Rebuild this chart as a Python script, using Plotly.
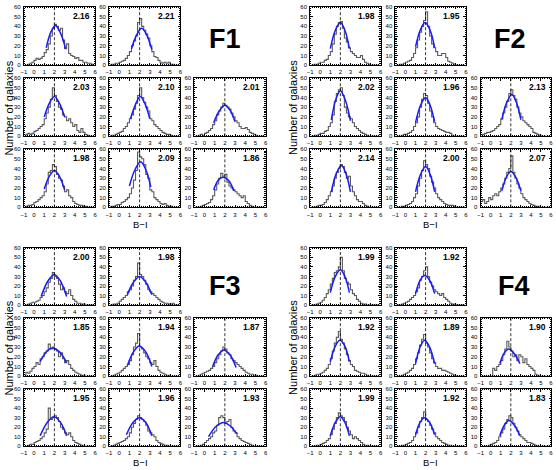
import numpy as np
import plotly.graph_objects as go

# --- data -----------------------------------------------------------------
# step histograms: counts in 0.2-wide B-I bins from -1.0 to 6.0 (35 bins)
bin_edges = np.round(np.arange(-1.0, 6.0001, 0.2), 2)
bin_centers = (bin_edges[:-1] + bin_edges[1:]) / 2

panel_names = ["F1", "F2", "F3", "F4"]

f1_labels = ["2.16", "2.21", "2.03", "2.10", "2.01", "1.98", "2.09", "1.86"]
f2_labels = ["1.98", "1.95", "2.02", "1.96", "2.13", "2.14", "2.00", "2.07"]
f3_labels = ["2.00", "1.98", "1.85", "1.94", "1.87", "1.95", "1.96", "1.93"]
f4_labels = ["1.99", "1.92", "1.92", "1.89", "1.90", "1.99", "1.92", "1.83"]

f1_counts = [
    [0,0,1,2,3,5,7,6,7,9,13,16,22,30,38,42,40,36,38,26,17,22,12,10,9,7,8,5,5,3,3,2,2,1,0],
    [0,1,1,2,2,3,4,5,7,10,14,20,25,30,44,48,40,36,32,28,20,14,9,8,5,3,2,3,2,3,1,1,0,0,0],
    [0,2,3,2,3,5,6,8,10,12,18,24,30,38,50,42,36,30,28,22,20,16,18,14,10,12,6,4,8,4,2,1,0,0,0],
    [0,1,1,2,3,4,5,8,10,14,18,22,28,34,42,50,40,35,30,26,18,16,12,10,8,6,4,3,2,2,1,0,0,0,0],
    [0,0,1,2,1,3,4,6,8,12,16,22,26,30,34,32,30,28,24,20,16,14,10,8,8,9,7,4,3,2,1,0,0,0,0],
    [0,1,2,2,3,5,6,8,10,12,16,24,36,38,44,42,34,30,28,22,16,18,12,10,6,4,3,2,2,1,1,0,0,0,0],
    [0,1,1,2,3,3,5,6,8,10,14,20,28,38,57,52,50,44,34,30,18,16,10,8,6,4,3,4,2,1,1,0,0,0,0],
    [0,0,0,1,2,3,4,5,8,12,18,24,30,35,32,34,26,22,20,18,16,14,12,10,12,6,4,2,1,0,0,0,0,0,0],
]
f2_counts = [
    [0,0,1,1,2,3,3,5,6,10,14,22,32,40,44,45,38,28,24,18,14,12,10,8,8,10,6,3,2,1,0,0,0,0,0],
    [0,0,1,1,2,3,4,5,8,12,18,26,34,40,46,55,40,30,22,18,14,10,10,12,12,8,4,3,2,1,0,0,0,0,0],
    [0,0,1,1,2,3,3,5,6,10,14,22,36,44,48,50,42,30,24,20,18,14,10,8,6,4,3,2,1,0,0,0,0,0,0],
    [0,0,0,1,2,2,3,4,6,10,14,20,30,38,44,42,34,26,20,14,10,8,7,6,5,4,4,3,1,0,0,0,0,0,0],
    [0,2,3,4,4,5,6,8,10,12,18,24,30,36,44,48,42,38,30,24,20,16,14,12,10,8,4,3,2,1,0,0,0,0,0],
    [0,0,0,1,2,2,3,5,8,12,16,22,30,36,40,44,42,36,30,32,22,16,12,8,6,6,4,2,1,0,0,0,0,0,0],
    [0,0,0,1,1,2,3,4,6,10,14,22,30,38,48,44,40,32,26,20,14,10,8,6,4,3,2,2,2,1,0,0,0,0,0],
    [6,8,4,6,10,8,12,14,12,16,20,24,30,36,40,53,36,30,24,20,14,10,8,6,4,3,2,1,1,0,0,0,0,0,0],
]
f3_counts = [
    [0,0,1,2,3,3,4,5,8,10,14,18,24,28,34,30,28,22,16,18,14,12,16,10,6,4,2,2,1,1,0,0,0,0,0],
    [0,0,1,1,2,4,6,8,10,14,16,20,26,30,44,32,30,26,22,16,14,12,10,8,6,4,3,2,2,1,1,2,0,0,0],
    [0,4,3,5,8,10,14,12,18,20,24,26,33,28,30,28,26,20,24,18,14,16,12,8,6,4,3,2,1,1,0,0,0,0,0],
    [0,0,1,2,3,4,6,8,10,12,16,22,30,34,44,30,28,24,20,18,14,12,16,10,6,4,3,2,1,1,0,0,0,0,0],
    [0,0,1,2,3,4,5,6,8,10,14,18,22,26,30,28,24,22,18,16,14,12,10,8,6,4,3,2,2,1,1,0,0,0,0],
    [0,0,1,2,2,4,5,6,8,10,14,18,40,28,30,32,30,26,20,18,14,12,14,10,6,4,3,2,1,0,0,0,0,0,0],
    [0,0,1,2,3,4,5,6,8,10,14,20,24,28,32,30,28,26,22,16,14,12,10,6,4,3,2,1,1,0,0,0,0,0,0],
    [0,0,0,1,2,4,6,8,10,14,16,22,30,32,30,24,26,28,20,16,14,10,8,6,5,4,3,2,1,0,0,0,0,0,0],
]
f4_counts = [
    [0,0,0,1,2,3,5,8,12,16,22,28,34,36,40,50,36,28,24,22,16,12,10,6,4,2,1,1,0,0,0,0,0,0,0],
    [0,0,0,1,2,3,4,6,8,10,14,18,26,30,36,40,30,24,20,16,14,12,10,12,8,6,4,2,1,1,0,0,0,0,0],
    [0,0,1,2,2,3,4,6,8,12,18,26,34,40,46,38,34,28,22,16,12,10,6,5,4,3,3,2,1,0,0,0,0,0,0],
    [0,0,0,1,2,3,4,6,8,12,18,24,32,38,43,34,30,24,18,14,10,8,8,6,6,5,4,3,2,1,0,0,0,0,0],
    [0,0,0,0,0,0,8,6,10,12,16,22,28,36,30,26,20,22,16,22,20,14,18,12,10,8,6,2,1,0,0,0,0,0,0],
    [0,0,0,1,1,2,3,4,6,8,12,18,24,30,35,32,30,26,20,16,12,8,10,8,6,4,2,1,1,0,0,0,0,0,0],
    [0,0,0,1,1,2,3,4,6,10,14,20,26,30,36,28,26,22,18,14,10,8,6,4,3,2,1,1,0,0,0,0,0,0,0],
    [0,0,0,0,1,2,3,4,6,10,14,18,24,28,32,30,24,20,16,12,10,8,6,4,4,3,2,1,0,0,0,0,0,0,0],
]

# gaussian fits (blue)
f1_fit_x = [[1.2,1.65,2.1,2.6,3.1],[1.2,1.7,2.2,2.7,3.2],[1.0,1.5,2.0,2.5,3.0],[1.1,1.6,2.05,2.5,3.0],
            [0.9,1.45,2.0,2.5,3.0],[1.0,1.5,2.0,2.5,3.0],[1.0,1.55,2.1,2.6,3.1],[0.9,1.35,1.8,2.35,2.9]]
f1_fit_y = [[18,34,41,33,17],[17,31,38,31,16],[20,34,41,34,20],[18,33,41,34,18],
            [14,26,32,27,15],[19,32,38,32,18],[22,39,47,39,21],[18,28,31,28,17]]
f2_fit_x = [[1.0,1.5,2.0,2.45,2.9],[1.0,1.5,1.95,2.45,2.9],[1.1,1.55,2.0,2.5,3.0],[1.0,1.5,2.0,2.45,2.9],
            [1.1,1.6,2.1,2.55,3.0],[1.1,1.6,2.1,2.55,3.0],[1.0,1.5,2.0,2.45,2.9],[1.1,1.55,2.0,2.5,3.0]]
f2_fit_y = [[17,36,44,36,17],[19,37,44,36,18],[17,38,47,37,16],[14,32,40,32,15],
            [17,35,43,35,17],[16,35,43,35,16],[16,34,42,34,16],[17,31,37,31,17]]
f3_fit_x = [[0.7,1.35,2.0,2.6,3.2],[0.8,1.4,2.0,2.6,3.2],[0.6,1.2,1.8,2.5,3.2],[0.8,1.4,1.95,2.6,3.2],
            [0.8,1.35,1.9,2.5,3.1],[0.6,1.3,1.95,2.6,3.2],[0.7,1.35,1.95,2.6,3.2],[0.4,1.15,1.9,2.55,3.2]]
f3_fit_y = [[9,25,32,25,9],[11,24,30,24,11],[15,25,29,25,14],[11,25,31,25,10],
            [10,22,27,22,9],[11,25,31,25,11],[12,25,30,25,11],[10,21,25,21,13]]
f4_fit_x = [[1.0,1.5,2.0,2.45,2.9],[1.0,1.45,1.9,2.4,2.9],[1.0,1.5,1.95,2.45,2.9],[1.0,1.45,1.9,2.4,2.9],
            [0.9,1.35,1.8,2.35,2.9],[1.0,1.5,2.0,2.45,2.9],[1.0,1.45,1.9,2.4,2.9],[0.9,1.35,1.8,2.35,2.9]]
f4_fit_y = [[13,30,37,30,13],[12,26,31,26,12],[15,31,37,31,15],[13,30,37,30,13],
            [13,24,28,23,13],[11,25,31,25,11],[12,25,30,25,12],[11,22,27,22,11]]

ref_line_x = 2.0
x_ticks = [-1, 0, 1, 2, 3, 4, 5, 6]
y_ticks = [0, 10, 20, 30, 40, 50, 60]

all_counts = [f1_counts, f2_counts, f3_counts, f4_counts]
all_labels = [f1_labels, f2_labels, f3_labels, f4_labels]
all_fit_x = [f1_fit_x, f2_fit_x, f3_fit_x, f4_fit_x]
all_fit_y = [f1_fit_y, f2_fit_y, f3_fit_y, f4_fit_y]

# --- layout in pixels ------------------------------------------------------
W, H = 556, 470
FONT = "Liberation Sans, Arial, sans-serif"

cols_left = [(21, 93), (107, 179), (193, 265)]
cols_right = [(310, 381), (396, 467), (482, 553)]
rows_top = [(4, 63), (76, 135), (148, 207)]
rows_bot = [(248, 306), (319, 378), (391, 449)]
panel_grid = [(cols_left, rows_top), (cols_right, rows_top),
              (cols_left, rows_bot), (cols_right, rows_bot)]
# slots of the 8 small plots inside a panel (row, col)
slots = [(0, 0), (0, 1), (1, 0), (1, 1), (1, 2), (2, 0), (2, 1), (2, 2)]

# where the panel-level texts go (pixels)
name_pos = [(224, 36), (512, 36), (224, 287), (516, 287)]
ylab_pos = [(6, 106), (292, 106), (6, 349), (292, 349)]
xlab_pos = [(139, 224), (431, 224), (139, 465), (431, 465)]


def dom_x(p):
    return [p[0] / W, p[1] / W]


def dom_y(p):
    return [1 - p[1] / H, 1 - p[0] / H]


fig = go.Figure()
layout = {}
shapes = []
annotations = []

k = 0
for p in range(4):
    cols, rows = panel_grid[p]
    for s, (r, c) in enumerate(slots):
        k += 1
        xa = "x" if k == 1 else f"x{k}"
        ya = "y" if k == 1 else f"y{k}"

        fig.add_trace(go.Scatter(
            x=bin_centers, y=all_counts[p][s], mode="lines",
            line=dict(color="#5a5a5a", width=1.1, shape="hvh"),
            xaxis=xa, yaxis=ya, showlegend=False, hoverinfo="skip"
        ))
        fig.add_trace(go.Scatter(
            x=all_fit_x[p][s], y=all_fit_y[p][s], mode="lines",
            line=dict(color="#1a1aff", width=1.5, shape="spline"),
            xaxis=xa, yaxis=ya, showlegend=False, hoverinfo="skip"
        ))

        common = dict(
            showline=True, linecolor="black", linewidth=1, mirror="allticks",
            ticks="inside", ticklen=2.5, tickcolor="black", tickwidth=0.8,
            showgrid=False, zeroline=False, fixedrange=True,
            tickfont=dict(size=6, family=FONT, color="black"),
        )
        layout[f"xaxis{k}"] = dict(
            domain=dom_x(cols[c]), anchor=ya, range=[-1, 6],
            tickvals=x_ticks, ticklabelstandoff=1,
            minor=dict(dtick=0.2, ticks="inside", ticklen=1.2, tickcolor="black"),
            **common
        )
        layout[f"yaxis{k}"] = dict(
            domain=dom_y(rows[r]), anchor=xa, range=[0, 60],
            tickvals=y_ticks, ticklabelstandoff=1,
            minor=dict(dtick=2, ticks="inside", ticklen=1.2, tickcolor="black"),
            **common
        )

        shapes.append(dict(
            type="line", xref=xa, yref=f"{ya} domain",
            x0=ref_line_x, x1=ref_line_x, y0=0, y1=1,
            line=dict(color="black", width=0.8, dash="3px,2px")
        ))
        annotations.append(dict(
            text=f"<b>{all_labels[p][s]}</b>", xref=f"{xa} domain", yref=f"{ya} domain",
            x=0.95, y=0.96, xanchor="right", yanchor="top", showarrow=False,
            font=dict(size=8.5, family=FONT, color="black")
        ))

    annotations.append(dict(
        text=f"<b>{panel_names[p]}</b>", xref="paper", yref="paper",
        x=name_pos[p][0] / W, y=1 - name_pos[p][1] / H,
        xanchor="center", yanchor="middle", showarrow=False,
        font=dict(size=27, family=FONT, color="black")
    ))
    annotations.append(dict(
        text="Number of galaxies", xref="paper", yref="paper",
        x=ylab_pos[p][0] / W, y=1 - ylab_pos[p][1] / H, textangle=-90,
        xanchor="center", yanchor="middle", showarrow=False,
        font=dict(size=11, family=FONT, color="black")
    ))
    annotations.append(dict(
        text="B\u2212I", xref="paper", yref="paper",
        x=xlab_pos[p][0] / W, y=1 - xlab_pos[p][1] / H,
        xanchor="center", yanchor="middle", showarrow=False,
        font=dict(size=9.5, family=FONT, color="black")
    ))

fig.update_layout(
    width=W, height=H,
    margin=dict(l=0, r=0, t=0, b=0),
    paper_bgcolor="white", plot_bgcolor="white",
    shapes=shapes, annotations=annotations,
    **layout
)

# the page body has a default 8px margin, drop it so the figure fills the window
fig.write_html("out.html", config={"displayModeBar": False},
               post_script="document.body.style.margin='0';")
